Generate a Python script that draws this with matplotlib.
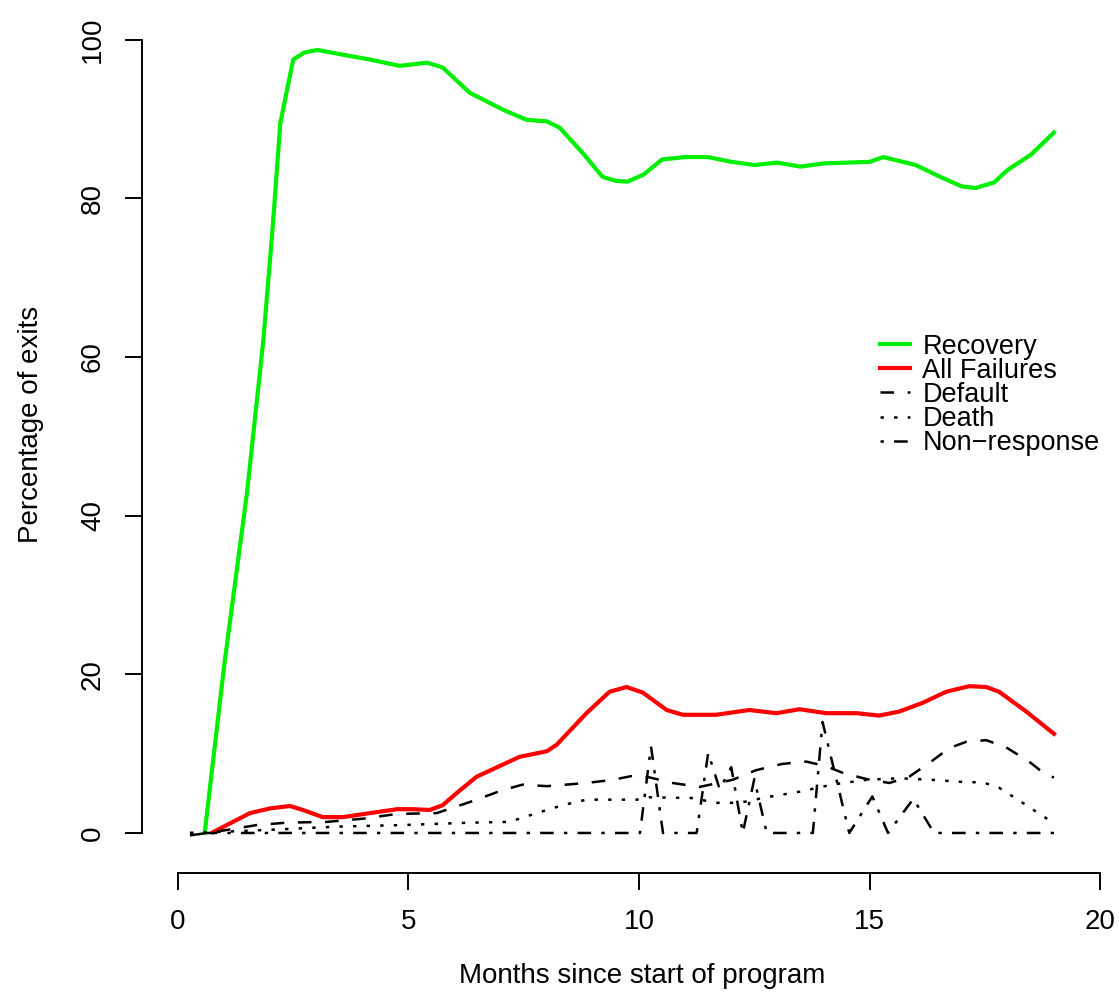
import matplotlib
matplotlib.use("Agg")
import matplotlib.pyplot as plt

plt.rcParams['font.family'] = ['Liberation Sans', 'DejaVu Sans']

# Recovery (green)
rec_x = [0.58, 1.0, 1.5, 1.85, 2.05, 2.22, 2.5, 2.75, 3.03, 3.58, 4.16, 4.81, 5.4,
         5.74, 6.33, 7.04, 7.56, 8.0, 8.28, 8.78, 9.21, 9.5, 9.75, 10.1, 10.5, 11.0,
         11.5, 12.0, 12.5, 13.0, 13.5, 14.0, 14.5, 15.0, 15.3, 16.0, 16.5, 17.0,
         17.3, 17.7, 18.0, 18.5, 19.0]
rec_y = [0, 21, 43, 62, 76, 89.5, 97.5, 98.4, 98.7, 98.1, 97.5, 96.7, 97.1,
         96.5, 93.3, 91.2, 89.9, 89.7, 88.9, 85.7, 82.7, 82.2, 82.1, 83.0, 84.9, 85.2,
         85.2, 84.6, 84.2, 84.5, 84.0, 84.4, 84.5, 84.6, 85.2, 84.2, 82.8, 81.5,
         81.3, 82.0, 83.6, 85.5, 88.3]

# All failures (red)
fail_x = [0.76, 1.56, 2.0, 2.43, 2.71, 3.14, 3.58, 4.16, 4.75, 5.09, 5.46, 5.74,
          6.1, 6.48, 7.41, 8.0, 8.21, 8.86, 9.36, 9.73, 10.08, 10.6, 10.95, 11.67,
          12.39, 12.98, 13.48, 14.06, 14.71, 15.21, 15.64, 16.15, 16.66, 17.16,
          17.53, 17.81, 18.4, 19.0]
fail_y = [0.1, 2.5, 3.1, 3.4, 2.9, 2.0, 2.0, 2.5, 3.0, 3.0, 2.9, 3.5,
          5.3, 7.1, 9.6, 10.3, 11.1, 15.1, 17.8, 18.4, 17.7, 15.5, 14.9, 14.9,
          15.5, 15.1, 15.6, 15.1, 15.1, 14.8, 15.3, 16.4, 17.8, 18.5,
          18.4, 17.8, 15.3, 12.5]

# Default (dashed)
def_x = [0.26, 0.76, 1.71, 2.36, 3.23, 4.01, 4.75, 5.61, 6.33, 7.04, 7.48, 8.0,
         8.86, 9.43, 9.86, 10.23, 10.73, 11.31, 12.03, 12.53, 13.1, 13.63, 14.06,
         14.41, 14.93, 15.43, 15.86, 16.29, 16.73, 17.1, 17.53, 17.96, 18.46,
         18.83, 19.0]
def_y = [-0.3, 0.1, 1.0, 1.3, 1.4, 1.8, 2.4, 2.5, 3.9, 5.4, 6.1, 5.9,
         6.3, 6.7, 7.2, 7.0, 6.3, 5.8, 6.7, 7.9, 8.7, 9.0, 8.4,
         7.6, 6.8, 6.3, 7.1, 8.8, 10.7, 11.5, 11.7, 10.8, 9.0,
         7.3, 7.0]

# Death (dotted)
death_x = [0.26, 0.76, 2.0, 3.45, 4.88, 6.33, 7.19, 7.78, 8.34, 8.86, 9.95, 10.23,
           11.16, 11.67, 12.18, 12.76, 13.48, 14.19, 14.93, 15.64, 16.36, 17.1,
           17.45, 17.81, 18.32, 18.9, 19.0]
death_y = [0, 0.1, 0.4, 0.8, 1.0, 1.3, 1.4, 2.5, 3.5, 4.2, 4.2, 4.5,
           4.4, 3.8, 3.8, 4.5, 5.2, 6.1, 6.7, 6.9, 6.7, 6.4,
           6.4, 5.7, 3.8, 1.6, 1.4]

# Non-response (dot-dash)
nonr_x = [0.26, 10.02, 10.26, 10.52, 11.25, 11.5, 11.75, 12.0, 12.25, 12.5, 12.77,
          13.77, 13.98, 14.56, 15.06, 15.4, 15.95, 16.4, 19.0]
nonr_y = [0, 0, 10.9, 0, 0, 10.1, 5.5, 8.3, 0, 6.8, 0,
          0, 14.0, 0, 4.6, 0, 4.3, 0, 0]

fig = plt.figure(figsize=(11.19, 9.92), dpi=100)
ax = fig.add_axes([0.1269, 0.12, 0.8731, 0.872])

blw = 1.8
u = 1.36
ax.plot(rec_x, rec_y, color='#00ee00', lw=3.0, label='Recovery')
ax.plot(fail_x, fail_y, color='#ff0000', lw=3.0, label='All Failures')
ax.plot(def_x, def_y, color='black', lw=blw, dashes=(4 * u, 4 * u), label='Default')
ax.plot(death_x, death_y, color='black', lw=blw, dashes=(u, 3 * u), label='Death')
ax.plot(nonr_x, nonr_y, color='black', lw=blw, dashes=(u, 3 * u, 4 * u, 3 * u),
        label='Non\u2212response')

ax.set_xlim(-0.78, 20.41)
ax.set_ylim(-5.04, 104.0)
ax.set_xticks([0, 5, 10, 15, 20])
ax.set_yticks([0, 20, 40, 60, 80, 100])

for s in ['top', 'right']:
    ax.spines[s].set_visible(False)
ax.spines['left'].set_bounds(0, 100)
ax.spines['bottom'].set_bounds(0, 20)
for s in ['left', 'bottom']:
    ax.spines[s].set_linewidth(1.4)

ax.tick_params(axis='both', direction='out', length=12, width=1.4,
               labelsize=20, pad=14)
ax.tick_params(axis='y', labelrotation=90)
for t in ax.get_yticklabels():
    t.set_va('center')

ax.set_xlabel('Months since start of program', fontsize=20)
ax.set_ylabel('Percentage of exits', fontsize=20)
ax.xaxis.set_label_coords(0.5118, -0.104)
ax.yaxis.set_label_coords(-0.1003, 0.518)

ax.legend(loc='upper left', bbox_to_anchor=(0.742, 0.639), frameon=False,
          fontsize=19.5, handlelength=1.1, handletextpad=0.45,
          labelspacing=-0.07, borderpad=0)

fig.savefig('out.png', dpi=100)
